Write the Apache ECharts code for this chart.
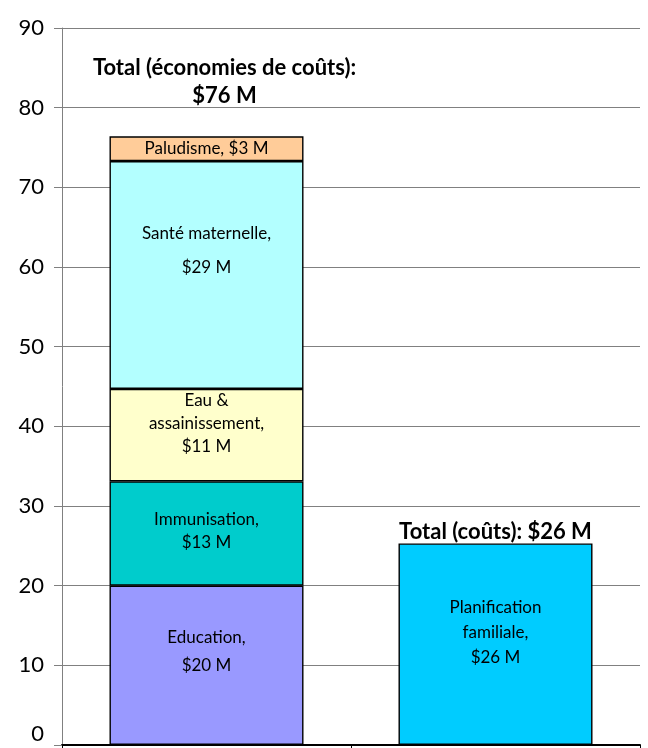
<!DOCTYPE html>
<html>
<head>
<meta charset="utf-8">
<script src="https://cdn.jsdelivr.net/npm/echarts@6/dist/echarts.min.js"></script>
<style>
  html, body { margin: 0; padding: 0; background: #fff; }
  #chart { width: 648px; height: 748px; }
</style>
</head>
<body>
<div id="chart"></div>
<script>
// data (millions of $)
const categories = ['Économies', 'Coûts'];
const education = [20, null];
const immunisation = [13.1, null];
const eau = [11.6, null];
const santeMaternelle = [28.6, null];
const paludisme = [3.1, null];
const planification = [null, 25.3];
const segmentLabels = {
  education: 'Education,\n$20 M',
  immunisation: 'Immunisation,\n$13 M',
  eau: 'Eau &\nassainissement,\n$11 M',
  sante: 'Santé maternelle,\n$29 M',
  paludisme: 'Paludisme, $3 M',
  planification: 'Planification\nfamiliale,\n$26 M'
};
const totalLabels = ['Total (économies de coûts):\n$76 M', 'Total (coûts): $26 M'];
const yTicks = { min: 0, max: 90, interval: 10 };

const font = 'Lato, "Open Sans", sans-serif';

const chart = echarts.init(document.getElementById('chart'));

const segment = (name, data, color, text, extra) => ({
  name,
  type: 'bar',
  stack: 'total',
  barWidth: 194,
  data,
  itemStyle: { color, borderColor: '#000', borderWidth: 1.4 },
  label: Object.assign({
    show: true,
    position: 'inside',
    formatter: text,
    color: '#000',
    fontFamily: font,
    fontSize: 17,
    lineHeight: 23
  }, extra || {})
});

const option = {
  animation: false,
  backgroundColor: '#fff',
  grid: { left: 62, right: 8, top: 28, bottom: 3, outerBoundsMode: 'none' },
  xAxis: {
    type: 'category',
    data: categories,
    axisLine: { lineStyle: { color: '#000', width: 2 } },
    axisTick: { show: true, length: 6, lineStyle: { color: '#000' } },
    axisLabel: { show: false }
  },
  yAxis: {
    type: 'value',
    min: yTicks.min,
    max: yTicks.max,
    interval: yTicks.interval,
    axisLine: { show: true, lineStyle: { color: '#808080', width: 1 } },
    axisTick: { show: true, length: 8, lineStyle: { color: '#808080' } },
    axisLabel: {
      color: '#000', fontFamily: font, fontSize: 22, margin: 18,
      verticalAlignMinLabel: 'bottom'
    },
    splitLine: { lineStyle: { color: '#808080', width: 1 } }
  },
  series: [
    segment('Education', education, '#9999FF', segmentLabels.education, { offset: [0, -14], lineHeight: 28 }),
    segment('Immunisation', immunisation, '#00CCCC', segmentLabels.immunisation, { offset: [0, -2] }),
    segment('Eau & assainissement', eau, '#FFFFCC', segmentLabels.eau, { offset: [0, -12] }),
    segment('Santé maternelle', santeMaternelle, '#B3FFFF', segmentLabels.sante, { offset: [0, -24], lineHeight: 34 }),
    segment('Paludisme', paludisme, '#FFCC99', segmentLabels.paludisme),
    segment('Planification familiale', planification, '#00CCFF', segmentLabels.planification, { offset: [0, -12], lineHeight: 25 }),
    {
      name: 'Total',
      type: 'bar',
      stack: 'total',
      barWidth: 194,
      itemStyle: { color: 'transparent', borderWidth: 0 },
      data: [
        { value: 0, label: { formatter: totalLabels[0], distance: 26, offset: [18, 0], lineHeight: 28 } },
        { value: 0, label: { formatter: totalLabels[1], distance: 1 } }
      ],
      label: {
        show: true,
        position: 'top',
        color: '#000',
        fontFamily: font,
        fontWeight: 'bold',
        fontSize: 22
      }
    }
  ]
};

chart.setOption(option);
</script>
</body>
</html>
